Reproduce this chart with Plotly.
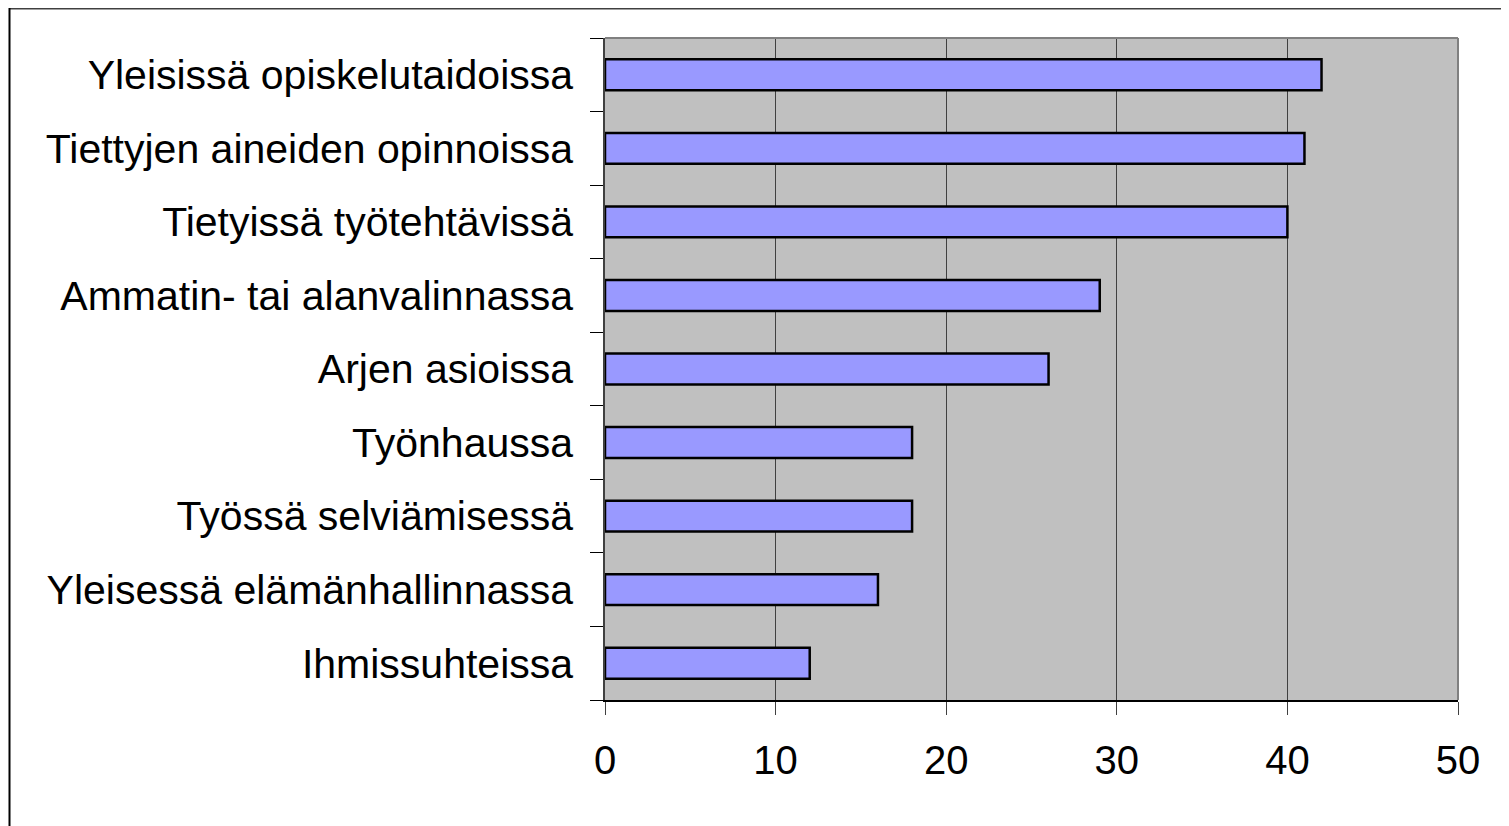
import plotly.graph_objects as go

categories = [
    "Yleisissä opiskelutaidoissa",
    "Tiettyjen aineiden opinnoissa",
    "Tietyissä työtehtävissä",
    "Ammatin- tai alanvalinnassa",
    "Arjen asioissa",
    "Työnhaussa",
    "Työssä selviämisessä",
    "Yleisessä elämänhallinnassa",
    "Ihmissuhteissa",
]
values = [42, 41, 40, 29, 26, 18, 18, 16, 12]
x_ticks = [0, 10, 20, 30, 40, 50]

fig = go.Figure()
fig.add_trace(go.Bar(
    y=categories, x=values, orientation="h",
    width=0.42,
    marker=dict(color="#9999FF", line=dict(color="black", width=2.5)),
))

OFF = 8  # browser body margin
W, H = 1509 - OFF, 826 - OFF
L, R, T, B = 605 - OFF, 1458 - OFF, 38 - OFF, 700 - OFF
fig.update_layout(
    width=W, height=H,
    margin=dict(l=L, r=W - R, t=T, b=H - B, pad=0),
    paper_bgcolor="white", plot_bgcolor="#C0C0C0",
    font=dict(family="Liberation Sans, Arial, sans-serif", size=41, color="black"),
    showlegend=False,
)
fig.update_xaxes(
    range=[0, 50], tickvals=x_ticks, ticktext=[str(v) for v in x_ticks],
    showgrid=True, gridcolor="#404040", gridwidth=1,
    ticks="outside", ticklen=13, tickcolor="#404040", tickwidth=1,
    showline=True, linecolor="black", linewidth=2,
    tickfont=dict(size=40),
    ticklabelstandoff=11, zeroline=False, fixedrange=True,
)
fig.update_yaxes(
    categoryorder="array", categoryarray=categories[::-1],
    tickson="boundaries", ticks="outside", ticklen=13, tickcolor="black", tickwidth=1,
    showline=True, linecolor="#404040", linewidth=1.5,
    showgrid=False, ticklabelstandoff=22, fixedrange=True,
)

def fx(p):  # figure pixel x -> paper
    return (p - L) / (R - L)

def fy(p):  # figure pixel y -> paper
    return (B - p) / (B - T)

# plot area right/top border (gray)
fig.add_shape(type="line", xref="paper", yref="paper", x0=0, x1=1, y0=1, y1=1,
              line=dict(color="#808080", width=2))
fig.add_shape(type="line", xref="paper", yref="paper", x0=1, x1=1, y0=0, y1=1,
              line=dict(color="#808080", width=2))
# outer chart border
fig.add_shape(type="line", xref="paper", yref="paper",
              x0=fx(1.5), x1=fx(W + 20), y0=fy(0.6), y1=fy(0.6),
              line=dict(color="#404040", width=2), layer="below")
fig.add_shape(type="line", xref="paper", yref="paper",
              x0=fx(1.5), x1=fx(1.5), y0=fy(0), y1=fy(H + 20),
              line=dict(color="black", width=2), layer="below")

fig.write_html("out.html")
